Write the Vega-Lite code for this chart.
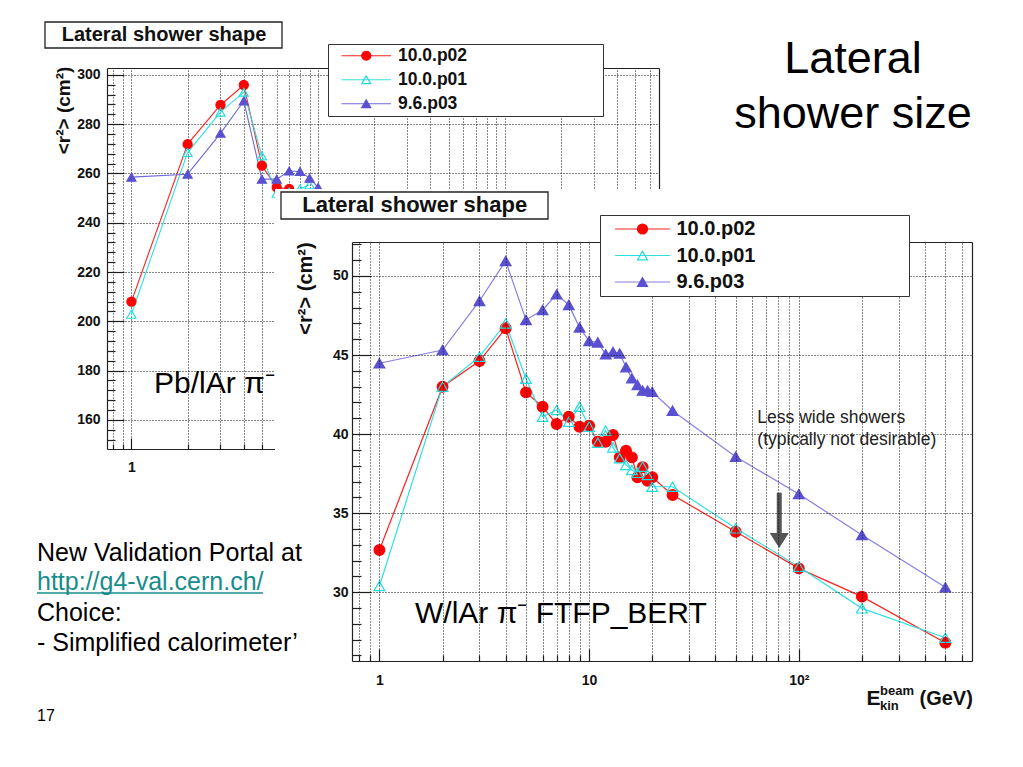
{
  "$schema": "https://vega.github.io/schema/vega-lite/v6.json",
  "width": 1023,
  "height": 767,
  "autosize": "none",
  "padding": 0,
  "background": "white",
  "config": {
    "font": "Liberation Sans",
    "view": {"stroke": null},
    "axis": {
      "domainColor": "#222", "domainWidth": 1.2,
      "tickColor": "#222", "tickWidth": 1.2,
      "labelFont": "Liberation Sans", "labelFontSize": 14, "labelFontWeight": "bold", "labelColor": "#111",
      "labelFlush": false, "labelOverlap": false, "labelBound": false,
      "titleFont": "Liberation Sans", "titleFontWeight": "bold", "titleColor": "#111"
    }
  },
  "title": {
    "text": ["Lateral", "shower size"],
    "anchor": "start", "frame": "group", "align": "center", "baseline": "alphabetic",
    "dx": 853, "dy": 173, "offset": 0,
    "font": "Liberation Sans", "fontSize": 45, "fontWeight": "normal", "color": "black", "lineHeight": 55
  },
  "datasets": {
    "pblar": [
      {"version": "10.0.p02", "E": 1, "r2": 208.0},
      {"version": "10.0.p02", "E": 2, "r2": 271.9},
      {"version": "10.0.p02", "E": 3, "r2": 287.8},
      {"version": "10.0.p02", "E": 4, "r2": 295.9},
      {"version": "10.0.p02", "E": 5, "r2": 263.2},
      {"version": "10.0.p02", "E": 6, "r2": 254.4},
      {"version": "10.0.p02", "E": 7, "r2": 253.7},
      {"version": "10.0.p01", "E": 1, "r2": 202.9},
      {"version": "10.0.p01", "E": 2, "r2": 268.5},
      {"version": "10.0.p01", "E": 3, "r2": 284.9},
      {"version": "10.0.p01", "E": 4, "r2": 293.0},
      {"version": "10.0.p01", "E": 5, "r2": 267.2},
      {"version": "10.0.p01", "E": 6, "r2": 252.0},
      {"version": "10.0.p01", "E": 7, "r2": 252.5},
      {"version": "10.0.p01", "E": 8, "r2": 253.8},
      {"version": "10.0.p01", "E": 9, "r2": 255.4},
      {"version": "9.6.p03", "E": 1, "r2": 258.5},
      {"version": "9.6.p03", "E": 2, "r2": 259.7},
      {"version": "9.6.p03", "E": 3, "r2": 276.3},
      {"version": "9.6.p03", "E": 4, "r2": 289.4},
      {"version": "9.6.p03", "E": 5, "r2": 257.7},
      {"version": "9.6.p03", "E": 6, "r2": 257.7},
      {"version": "9.6.p03", "E": 7, "r2": 261.0},
      {"version": "9.6.p03", "E": 8, "r2": 260.8},
      {"version": "9.6.p03", "E": 9, "r2": 258.1},
      {"version": "9.6.p03", "E": 10, "r2": 254.4}
    ],
    "wlar": [
      {"version": "10.0.p02", "E": 1, "r2": 32.67},
      {"version": "10.0.p02", "E": 2, "r2": 43.0},
      {"version": "10.0.p02", "E": 3, "r2": 44.62},
      {"version": "10.0.p02", "E": 4, "r2": 46.69},
      {"version": "10.0.p02", "E": 5, "r2": 42.64},
      {"version": "10.0.p02", "E": 6, "r2": 41.73},
      {"version": "10.0.p02", "E": 7, "r2": 40.64},
      {"version": "10.0.p02", "E": 8, "r2": 41.1},
      {"version": "10.0.p02", "E": 9, "r2": 40.47},
      {"version": "10.0.p02", "E": 10, "r2": 40.53},
      {"version": "10.0.p02", "E": 11, "r2": 39.52},
      {"version": "10.0.p02", "E": 12, "r2": 39.52},
      {"version": "10.0.p02", "E": 13, "r2": 39.94},
      {"version": "10.0.p02", "E": 14, "r2": 38.53},
      {"version": "10.0.p02", "E": 15, "r2": 38.95},
      {"version": "10.0.p02", "E": 16, "r2": 38.53},
      {"version": "10.0.p02", "E": 17, "r2": 37.27},
      {"version": "10.0.p02", "E": 18, "r2": 37.9},
      {"version": "10.0.p02", "E": 19, "r2": 37.05},
      {"version": "10.0.p02", "E": 20, "r2": 37.27},
      {"version": "10.0.p02", "E": 25, "r2": 36.15},
      {"version": "10.0.p02", "E": 50, "r2": 33.83},
      {"version": "10.0.p02", "E": 100, "r2": 31.51},
      {"version": "10.0.p02", "E": 200, "r2": 29.72},
      {"version": "10.0.p02", "E": 500, "r2": 26.81},
      {"version": "10.0.p01", "E": 1, "r2": 30.39},
      {"version": "10.0.p01", "E": 2, "r2": 43.0},
      {"version": "10.0.p01", "E": 3, "r2": 44.9},
      {"version": "10.0.p01", "E": 4, "r2": 47.0},
      {"version": "10.0.p01", "E": 5, "r2": 43.5},
      {"version": "10.0.p01", "E": 6, "r2": 41.1},
      {"version": "10.0.p01", "E": 7, "r2": 41.52},
      {"version": "10.0.p01", "E": 8, "r2": 40.78},
      {"version": "10.0.p01", "E": 9, "r2": 41.73},
      {"version": "10.0.p01", "E": 10, "r2": 40.47},
      {"version": "10.0.p01", "E": 11, "r2": 39.46},
      {"version": "10.0.p01", "E": 12, "r2": 40.22},
      {"version": "10.0.p01", "E": 13, "r2": 39.16},
      {"version": "10.0.p01", "E": 14, "r2": 38.47},
      {"version": "10.0.p01", "E": 15, "r2": 38.05},
      {"version": "10.0.p01", "E": 16, "r2": 37.73},
      {"version": "10.0.p01", "E": 17, "r2": 37.55},
      {"version": "10.0.p01", "E": 18, "r2": 37.94},
      {"version": "10.0.p01", "E": 19, "r2": 37.41},
      {"version": "10.0.p01", "E": 20, "r2": 36.67},
      {"version": "10.0.p01", "E": 25, "r2": 36.67},
      {"version": "10.0.p01", "E": 50, "r2": 34.04},
      {"version": "10.0.p01", "E": 100, "r2": 31.61},
      {"version": "10.0.p01", "E": 200, "r2": 28.98},
      {"version": "10.0.p01", "E": 500, "r2": 27.12},
      {"version": "9.6.p03", "E": 1, "r2": 44.48},
      {"version": "9.6.p03", "E": 2, "r2": 45.32},
      {"version": "9.6.p03", "E": 3, "r2": 48.42},
      {"version": "9.6.p03", "E": 4, "r2": 50.95},
      {"version": "9.6.p03", "E": 5, "r2": 47.22},
      {"version": "9.6.p03", "E": 6, "r2": 47.85},
      {"version": "9.6.p03", "E": 7, "r2": 48.84},
      {"version": "9.6.p03", "E": 8, "r2": 48.17},
      {"version": "9.6.p03", "E": 9, "r2": 46.75},
      {"version": "9.6.p03", "E": 10, "r2": 45.89},
      {"version": "9.6.p03", "E": 11, "r2": 45.8},
      {"version": "9.6.p03", "E": 12, "r2": 45.05},
      {"version": "9.6.p03", "E": 13, "r2": 45.2},
      {"version": "9.6.p03", "E": 14, "r2": 45.1},
      {"version": "9.6.p03", "E": 15, "r2": 44.23},
      {"version": "9.6.p03", "E": 16, "r2": 43.53},
      {"version": "9.6.p03", "E": 17, "r2": 43.11},
      {"version": "9.6.p03", "E": 18, "r2": 42.75},
      {"version": "9.6.p03", "E": 19, "r2": 42.75},
      {"version": "9.6.p03", "E": 20, "r2": 42.68},
      {"version": "9.6.p03", "E": 25, "r2": 41.48},
      {"version": "9.6.p03", "E": 50, "r2": 38.57},
      {"version": "9.6.p03", "E": 100, "r2": 36.21},
      {"version": "9.6.p03", "E": 200, "r2": 33.62},
      {"version": "9.6.p03", "E": 500, "r2": 30.31}
    ]
  },
  "layer": [
    {
      "layer": [
        {
          "data": {"name": "pblar"},
          "mark": {"type": "line", "strokeWidth": 1.1},
          "encoding": {
            "x": {"field": "E", "type": "quantitative",
              "scale": {"type": "log", "domain": [0.74, 670], "range": [107, 659], "nice": false},
              "axis": {"orient": "bottom", "offset": -318, "values": [0.8,0.9,1,2,3,4,5,6,7,8,9,10,20,30,40,50,60,70,80,90,100,200,300,400,500,600],
                "grid": false, "ticks": false, "labelPadding": 11,
                "labelExpr": "datum.value == 1 ? '1' : datum.value == 10 ? '10' : datum.value == 100 ? '10²' : ''", "title": null}},
            "y": {"field": "r2", "type": "quantitative",
              "scale": {"domain": [148.2, 302.8], "range": [449, 68], "nice": false, "zero": false},
              "axis": {"orient": "left", "offset": -107, "values": [160,180,200,220,240,260,280,300],
                "grid": false, "ticks": false, "labelPadding": 7,
                "title": "<r²> (cm²)", "titleFontSize": 19, "titleAngle": -90, "titleX": -44, "titleY": 110, "titleAlign": "center", "titleBaseline": "middle"}},
            "stroke": {"field": "version", "type": "nominal",
              "scale": {"domain": ["10.0.p02", "10.0.p01", "9.6.p03"], "range": ["#ff2020", "#30e0e0", "#6f69d8"]},
              "legend": {
                "orient": "none", "legendX": 328, "legendY": 44, "direction": "vertical",
                "title": "0000000000000", "titleOrient": "right", "titleOpacity": 0, "titleFontSize": 17.5, "titleFont": "Liberation Sans", "titleFontWeight": "bold", "titlePadding": 6,
                "fillColor": "white", "strokeColor": "#333", "padding": 3, "rowPadding": 5,
                "symbolType": "M-5.5,0H5.5", "symbolSize": 81, "symbolOffset": 26.5, "symbolStrokeWidth": 1.2, "labelOffset": 23,
                "labelFont": "Liberation Sans", "labelFontSize": 17.5, "labelFontWeight": "bold", "labelColor": "#111", "labelLimit": 500
              }}
          }
        },
        {
          "data": {"name": "pblar"},
          "mark": {"type": "point", "size": 85, "strokeWidth": 1.1, "opacity": 1},
          "encoding": {
            "x": {"field": "E", "type": "quantitative",
              "scale": {"type": "log", "domain": [0.74, 670], "range": [107, 659], "nice": false},
              "axis": {"orient": "bottom", "offset": -318, "values": [0.8,0.9,1,2,3,4,5,6,7,8,9,10,20,30,40,50,60,70,80,90,100,200,300,400,500,600],
                "grid": false, "domain": false, "labels": false, "ticks": true,
                "tickSize": {"condition": {"test": "datum.value == 1 || datum.value == 10 || datum.value == 100", "value": -11}, "value": -5}, "title": null}},
            "y": {"field": "r2", "type": "quantitative",
              "scale": {"domain": [148.2, 302.8], "range": [449, 68], "nice": false, "zero": false},
              "axis": {"orient": "left", "offset": -107, "values": [152,156,160,164,168,172,176,180,184,188,192,196,200,204,208,212,216,220,224,228,232,236,240,244,248,252,256,260,264,268,272,276,280,284,288,292,296,300],
                "grid": false, "domain": false, "labels": false, "ticks": true,
                "tickSize": {"condition": {"test": "datum.value % 20 == 0", "value": -17}, "value": -8}, "title": null}},
            "shape": {"field": "version", "type": "nominal",
              "scale": {"domain": ["10.0.p02", "10.0.p01", "9.6.p03"], "range": ["circle", "triangle-up", "triangle-up"]},
              "legend": {"orient": "none", "legendX": 328, "legendY": 44, "direction": "vertical", "title": null,
                "padding": 3, "rowPadding": 5, "symbolSize": 81, "symbolOffset": 26.5, "symbolStrokeWidth": 1.2, "labelOffset": 23,
                "labelFont": "Liberation Sans", "labelFontSize": 17.5, "labelFontWeight": "bold", "labelOpacity": 0, "labelLimit": 500}},
            "fill": {"field": "version", "type": "nominal",
              "scale": {"domain": ["10.0.p02", "10.0.p01", "9.6.p03"], "range": ["#ff0000", "transparent", "#5a50d2"]},
              "legend": {"orient": "none", "legendX": 328, "legendY": 44, "direction": "vertical", "title": null,
                "padding": 3, "rowPadding": 5, "symbolSize": 81, "symbolOffset": 26.5, "symbolStrokeWidth": 1.2, "labelOffset": 23,
                "labelFont": "Liberation Sans", "labelFontSize": 17.5, "labelFontWeight": "bold", "labelOpacity": 0, "labelLimit": 500}},
            "stroke": {"field": "version", "type": "nominal",
              "scale": {"domain": ["10.0.p02", "10.0.p01", "9.6.p03"], "range": ["#ff0000", "#20dede", "#5a50d2"]},
              "legend": {"orient": "none", "legendX": 328, "legendY": 44, "direction": "vertical", "title": null,
                "padding": 3, "rowPadding": 5, "symbolSize": 81, "symbolOffset": 26.5, "symbolStrokeWidth": 1.2, "labelOffset": 23,
                "labelFont": "Liberation Sans", "labelFontSize": 17.5, "labelFontWeight": "bold", "labelOpacity": 0, "labelLimit": 500}}
          }
        },
        {
          "data": {"values": [{"E": 0.3444, "E2": 6.406, "r2": 321.46, "r2b": 310.91}]},
          "mark": {"type": "rect", "fill": "white", "stroke": "#222", "strokeWidth": 1.3},
          "encoding": {
            "x": {"field": "E", "type": "quantitative",
              "scale": {"type": "log", "domain": [0.74, 670], "range": [107, 659], "nice": false},
              "axis": {"orient": "top", "offset": -68, "domain": true, "ticks": false, "labels": false, "grid": false, "title": null}},
            "x2": {"field": "E2"},
            "y": {"field": "r2", "type": "quantitative",
              "scale": {"domain": [148.2, 302.8], "range": [449, 68], "nice": false, "zero": false},
              "axis": {"orient": "right", "offset": -364, "domain": true, "ticks": false, "labels": false, "grid": false, "title": null}},
            "y2": {"field": "r2b"}
          }
        },
        {
          "data": {"values": [{"E": 1.4947, "r2": 313.75, "label": "Lateral shower shape"}]},
          "mark": {"type": "text", "font": "Liberation Sans", "fontSize": 20, "fontWeight": "bold", "align": "center", "baseline": "alphabetic", "color": "#111"},
          "encoding": {
            "x": {"field": "E", "type": "quantitative", "scale": {"type": "log", "domain": [0.74, 670], "range": [107, 659], "nice": false},
              "axis": {"orient": "bottom", "offset": -318, "values": [0.8,0.9,1,2,3,4,5,6,7,8,9,10,20,30,40,50,60,70,80,90,100,200,300,400,500,600],
                "grid": false, "domain": false, "labels": false, "ticks": true, "tickSize": -381, "tickDash": [1, 2], "tickColor": "#111", "tickWidth": 1, "title": null}},
            "y": {"field": "r2", "type": "quantitative", "scale": {"domain": [148.2, 302.8], "range": [449, 68], "nice": false, "zero": false},
              "axis": {"orient": "left", "offset": -107, "values": [160,180,200,220,240,260,280,300],
                "grid": false, "domain": false, "labels": false, "ticks": true, "tickSize": -552, "tickDash": [1, 2], "tickColor": "#111", "tickWidth": 1, "title": null}},
            "text": {"field": "label"}
          }
        },
        {
          "data": {"values": [{"E": 1.3213, "r2": 170.8, "label": "Pb/lAr π⁻"}]},
          "mark": {"type": "text", "font": "Liberation Sans", "fontSize": 30, "align": "left", "baseline": "alphabetic", "color": "black"},
          "encoding": {
            "x": {"field": "E", "type": "quantitative", "scale": {"type": "log", "domain": [0.74, 670], "range": [107, 659], "nice": false}, "axis": null},
            "y": {"field": "r2", "type": "quantitative", "scale": {"domain": [148.2, 302.8], "range": [449, 68], "nice": false, "zero": false}, "axis": null},
            "text": {"field": "label"}
          }
        }
      ],
      "resolve": {
        "scale": {"stroke": "independent", "fill": "independent", "shape": "independent"},
        "axis": {"x": "independent", "y": "independent"}
      }
    },
    {
      "layer": [
        {
          "data": {"values": [{}]},
          "mark": {"type": "rect", "fill": "white", "strokeWidth": 0},
          "encoding": {
            "x": {"datum": 0.3177, "type": "quantitative",
              "scale": {"type": "log", "domain": [0.74, 670], "range": [352, 972], "nice": false},
              "axis": {"orient": "top", "offset": -242, "domain": true, "ticks": false, "labels": false, "grid": false, "zindex": 1,
                "title": ["beam", "kin"], "titleFontSize": 13, "titleLineHeight": 15.3, "titleX": 879.5, "titleY": 452, "titleAlign": "left", "titleBaseline": "alphabetic", "titleAngle": 0}},
            "x2": {"datum": 1200},
            "y": {"datum": 55.5, "type": "quantitative",
              "scale": {"domain": [25.65, 52.15], "range": [661, 242], "nice": false, "zero": false},
              "axis": {"orient": "right", "offset": -51, "domain": true, "ticks": false, "labels": false, "grid": false, "zindex": 1,
                "title": "(GeV)", "titleFontSize": 20, "titleX": -53, "titleY": 704, "titleAlign": "left", "titleBaseline": "alphabetic", "titleAngle": 0}},
            "y2": {"datum": 20}
          }
        },
        {
          "data": {"name": "wlar"},
          "mark": {"type": "line", "strokeWidth": 1.2},
          "encoding": {
            "x": {"field": "E", "type": "quantitative",
              "scale": {"type": "log", "domain": [0.74, 670], "range": [352, 972], "nice": false},
              "axis": {"orient": "bottom", "offset": -106, "values": [0.8,0.9,1,2,3,4,5,6,7,8,9,10,20,30,40,50,60,70,80,90,100,200,300,400,500,600],
                "grid": false, "ticks": false, "labelPadding": 12, "zindex": 1,
                "labelExpr": "datum.value == 1 ? '1' : datum.value == 10 ? '10' : datum.value == 100 ? '10²' : ''",
                "title": "E", "titleFontSize": 21, "titleX": 866, "titleY": 43, "titleAlign": "left", "titleBaseline": "alphabetic"}},
            "y": {"field": "r2", "type": "quantitative",
              "scale": {"domain": [25.65, 52.15], "range": [661, 242], "nice": false, "zero": false},
              "axis": {"orient": "left", "offset": -352, "values": [30, 35, 40, 45, 50],
                "grid": false, "ticks": false, "labelPadding": 4, "zindex": 1,
                "title": "<r²> (cm²)", "titleFontSize": 20, "titleAngle": -90, "titleX": -47, "titleY": 288, "titleAlign": "center", "titleBaseline": "middle"}},
            "stroke": {"field": "version", "type": "nominal",
              "scale": {"domain": ["10.0.p02", "10.0.p01", "9.6.p03"], "range": ["#ff2020", "#30e0e0", "#8580e0"]},
              "legend": {
                "orient": "none", "legendX": 600, "legendY": 215, "direction": "vertical", "zindex": 2,
                "title": "0000000000000", "titleOrient": "right", "titleOpacity": 0, "titleFontSize": 20, "titleFont": "Liberation Sans", "titleFontWeight": "bold", "titlePadding": 5,
                "fillColor": "white", "strokeColor": "#333", "padding": 4, "rowPadding": 6.5,
                "symbolType": "M-5.5,0H5.5", "symbolSize": 100, "symbolOffset": 28.5, "symbolStrokeWidth": 1.2, "labelOffset": 24,
                "labelFont": "Liberation Sans", "labelFontSize": 20, "labelFontWeight": "bold", "labelColor": "#111", "labelLimit": 500
              }}
          }
        },
        {
          "data": {"name": "wlar"},
          "mark": {"type": "point", "size": 115, "strokeWidth": 1.2, "opacity": 1},
          "encoding": {
            "x": {"field": "E", "type": "quantitative",
              "scale": {"type": "log", "domain": [0.74, 670], "range": [352, 972], "nice": false},
              "axis": {"orient": "bottom", "offset": -106, "values": [0.8,0.9,1,2,3,4,5,6,7,8,9,10,20,30,40,50,60,70,80,90,100,200,300,400,500,600],
                "grid": false, "domain": false, "labels": false, "ticks": true, "zindex": 1,
                "tickSize": {"condition": {"test": "datum.value == 1 || datum.value == 10 || datum.value == 100", "value": -12}, "value": -6}, "title": null}},
            "y": {"field": "r2", "type": "quantitative",
              "scale": {"domain": [25.65, 52.15], "range": [661, 242], "nice": false, "zero": false},
              "axis": {"orient": "left", "offset": -352, "values": [26,27,28,29,30,31,32,33,34,35,36,37,38,39,40,41,42,43,44,45,46,47,48,49,50,51,52],
                "grid": false, "domain": false, "labels": false, "ticks": true, "zindex": 1,
                "tickSize": {"condition": {"test": "datum.value % 5 == 0", "value": -19}, "value": -9}, "title": null}},
            "shape": {"field": "version", "type": "nominal",
              "scale": {"domain": ["10.0.p02", "10.0.p01", "9.6.p03"], "range": ["circle", "triangle-up", "triangle-up"]},
              "legend": {"orient": "none", "legendX": 600, "legendY": 215, "direction": "vertical", "title": null, "zindex": 2,
                "padding": 4, "rowPadding": 6.5, "symbolSize": 100, "symbolOffset": 28.5, "symbolStrokeWidth": 1.2, "labelOffset": 24,
                "labelFont": "Liberation Sans", "labelFontSize": 20, "labelFontWeight": "bold", "labelOpacity": 0, "labelLimit": 500}},
            "fill": {"field": "version", "type": "nominal",
              "scale": {"domain": ["10.0.p02", "10.0.p01", "9.6.p03"], "range": ["#ff0000", "transparent", "#5a50d2"]},
              "legend": {"orient": "none", "legendX": 600, "legendY": 215, "direction": "vertical", "title": null, "zindex": 2,
                "padding": 4, "rowPadding": 6.5, "symbolSize": 100, "symbolOffset": 28.5, "symbolStrokeWidth": 1.2, "labelOffset": 24,
                "labelFont": "Liberation Sans", "labelFontSize": 20, "labelFontWeight": "bold", "labelOpacity": 0, "labelLimit": 500}},
            "stroke": {"field": "version", "type": "nominal",
              "scale": {"domain": ["10.0.p02", "10.0.p01", "9.6.p03"], "range": ["#ff0000", "#20dede", "#5a50d2"]},
              "legend": {"orient": "none", "legendX": 600, "legendY": 215, "direction": "vertical", "title": null, "zindex": 2,
                "padding": 4, "rowPadding": 6.5, "symbolSize": 100, "symbolOffset": 28.5, "symbolStrokeWidth": 1.2, "labelOffset": 24,
                "labelFont": "Liberation Sans", "labelFontSize": 20, "labelFontWeight": "bold", "labelOpacity": 0, "labelLimit": 500}}
          }
        },
        {
          "data": {"values": [{"E": 0.3393, "E2": 6.368, "r2": 55.312, "r2b": 53.605}]},
          "mark": {"type": "rect", "fill": "white", "stroke": "#222", "strokeWidth": 1.3},
          "encoding": {
            "x": {"field": "E", "type": "quantitative", "scale": {"type": "log", "domain": [0.74, 670], "range": [352, 972], "nice": false},
              "axis": {"orient": "bottom", "offset": -106, "values": [0.8,0.9,1,2,3,4,5,6,7,8,9,10,20,30,40,50,60,70,80,90,100,200,300,400,500,600],
                "grid": false, "domain": false, "labels": false, "ticks": true, "tickSize": -419, "tickDash": [1, 2], "tickColor": "#111", "tickWidth": 1, "zindex": 1, "title": null}},
            "x2": {"field": "E2"},
            "y": {"field": "r2", "type": "quantitative", "scale": {"domain": [25.65, 52.15], "range": [661, 242], "nice": false, "zero": false},
              "axis": {"orient": "left", "offset": -352, "values": [30, 35, 40, 45, 50],
                "grid": false, "domain": false, "labels": false, "ticks": true, "tickSize": -620, "tickDash": [1, 2], "tickColor": "#111", "tickWidth": 1, "zindex": 1, "title": null}},
            "y2": {"field": "r2b"}
          }
        },
        {
          "data": {"values": [{"E": 1.4733, "r2": 54.047, "label": "Lateral shower shape"}]},
          "mark": {"type": "text", "font": "Liberation Sans", "fontSize": 22, "fontWeight": "bold", "align": "center", "baseline": "alphabetic", "color": "#111"},
          "encoding": {
            "x": {"field": "E", "type": "quantitative", "scale": {"type": "log", "domain": [0.74, 670], "range": [352, 972], "nice": false}, "axis": null},
            "y": {"field": "r2", "type": "quantitative", "scale": {"domain": [25.65, 52.15], "range": [661, 242], "nice": false, "zero": false}, "axis": null},
            "text": {"field": "label"}
          }
        },
        {
          "data": {"values": [{"E": 1.478, "r2": 28.034, "label": "W/lAr π⁻ FTFP_BERT"}]},
          "mark": {"type": "text", "font": "Liberation Sans", "fontSize": 30, "align": "left", "baseline": "alphabetic", "color": "black"},
          "encoding": {
            "x": {"field": "E", "type": "quantitative", "scale": {"type": "log", "domain": [0.74, 670], "range": [352, 972], "nice": false}, "axis": null},
            "y": {"field": "r2", "type": "quantitative", "scale": {"domain": [25.65, 52.15], "range": [661, 242], "nice": false, "zero": false}, "axis": null},
            "text": {"field": "label"}
          }
        },
        {
          "data": {"values": [
            {"E": 63.42, "r2": 40.683, "label": "Less wide showers"},
            {"E": 63.42, "r2": 39.311, "label": "(typically not desirable)"}
          ]},
          "mark": {"type": "text", "font": "Liberation Sans", "fontSize": 17.5, "align": "left", "baseline": "alphabetic", "color": "#222"},
          "encoding": {
            "x": {"field": "E", "type": "quantitative", "scale": {"type": "log", "domain": [0.74, 670], "range": [352, 972], "nice": false}, "axis": null},
            "y": {"field": "r2", "type": "quantitative", "scale": {"domain": [25.65, 52.15], "range": [661, 242], "nice": false, "zero": false}, "axis": null},
            "text": {"field": "label"}
          }
        },
        {
          "data": {"values": [{"E": 80.7, "r2": 36.294, "r2b": 33.745}]},
          "mark": {"type": "rule", "strokeWidth": 5, "color": "#555"},
          "encoding": {
            "x": {"field": "E", "type": "quantitative", "scale": {"type": "log", "domain": [0.74, 670], "range": [352, 972], "nice": false}, "axis": null},
            "y": {"field": "r2", "type": "quantitative", "scale": {"domain": [25.65, 52.15], "range": [661, 242], "nice": false, "zero": false}, "axis": null},
            "y2": {"field": "r2b"}
          }
        },
        {
          "data": {"values": [{"E": 80.7, "r2": 33.271}]},
          "mark": {"type": "point", "shape": "M-1,-0.8L1,-0.8L0,0.8Z", "size": 361, "filled": true, "color": "#555", "opacity": 1, "strokeWidth": 0},
          "encoding": {
            "x": {"field": "E", "type": "quantitative", "scale": {"type": "log", "domain": [0.74, 670], "range": [352, 972], "nice": false}, "axis": null},
            "y": {"field": "r2", "type": "quantitative", "scale": {"domain": [25.65, 52.15], "range": [661, 242], "nice": false, "zero": false}, "axis": null}
          }
        },
        {
          "data": {"values": [{"E": 0.02328, "E2": 0.2784, "r2": 29.95}]},
          "mark": {"type": "rule", "strokeWidth": 1.5, "color": "#178c8c"},
          "encoding": {
            "x": {"field": "E", "type": "quantitative", "scale": {"type": "log", "domain": [0.74, 670], "range": [352, 972], "nice": false}, "axis": null},
            "x2": {"field": "E2"},
            "y": {"field": "r2", "type": "quantitative", "scale": {"domain": [25.65, 52.15], "range": [661, 242], "nice": false, "zero": false}, "axis": null}
          }
        },
        {
          "data": {"values": [
            {"E": 0.02328, "r2": 31.993, "kind": "text", "label": "New Validation Portal at"},
            {"E": 0.02328, "r2": 30.109, "kind": "link", "label": "http://g4-val.cern.ch/"},
            {"E": 0.02328, "r2": 28.199, "kind": "text", "label": "Choice:"},
            {"E": 0.02328, "r2": 26.301, "kind": "text", "label": "- Simplified calorimeter’"},
            {"E": 0.02328, "r2": 21.874, "kind": "page", "label": "17"}
          ]},
          "mark": {"type": "text", "font": "Liberation Sans", "align": "left", "baseline": "alphabetic"},
          "encoding": {
            "x": {"field": "E", "type": "quantitative", "scale": {"type": "log", "domain": [0.74, 670], "range": [352, 972], "nice": false}, "axis": null},
            "y": {"field": "r2", "type": "quantitative", "scale": {"domain": [25.65, 52.15], "range": [661, 242], "nice": false, "zero": false}, "axis": null},
            "text": {"field": "label"},
            "size": {"condition": {"test": "datum.kind === 'page'", "value": 16}, "value": 25},
            "color": {"condition": {"test": "datum.kind === 'link'", "value": "#178c8c"}, "value": "black"}
          }
        }
      ],
      "resolve": {
        "scale": {"stroke": "independent", "fill": "independent", "shape": "independent"},
        "axis": {"x": "independent", "y": "independent"}
      }
    }
  ],
  "resolve": {"scale": {"x": "independent", "y": "independent", "stroke": "independent", "fill": "independent", "shape": "independent"}}
}
